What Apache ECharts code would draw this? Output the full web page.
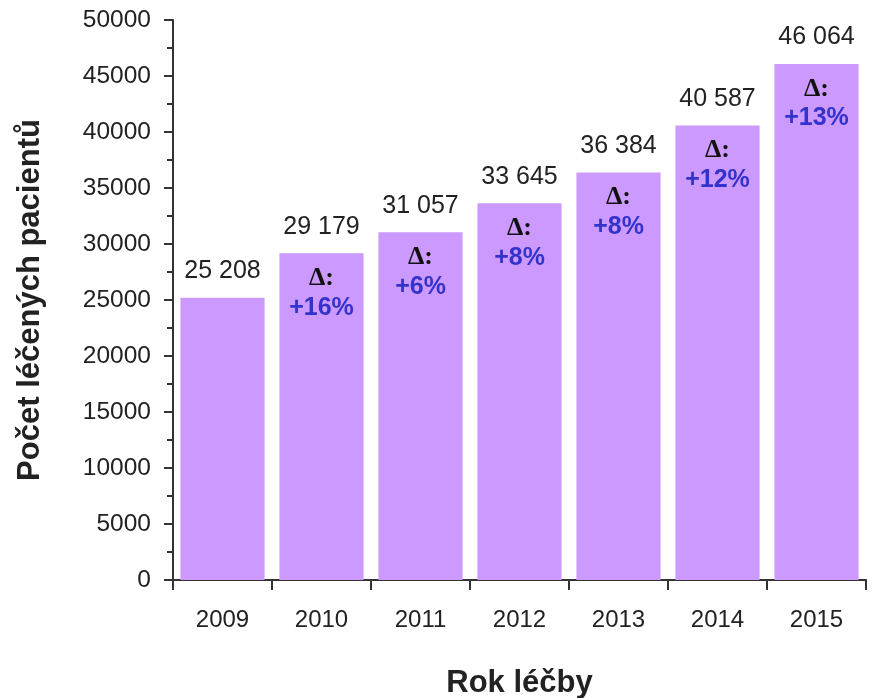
<!DOCTYPE html>
<html><head><meta charset="utf-8">
<script src="https://cdn.jsdelivr.net/npm/echarts@6/dist/echarts.min.js"></script>
<style>html,body{margin:0;padding:0;background:#fff}#c{width:874px;height:698px}</style>
</head><body><div id="c"></div>
<script>
var years = ['2009','2010','2011','2012','2013','2014','2015'];
var patients = [25208, 29179, 31057, 33645, 36384, 40587, 46064];
var growth = [null, 16, 6, 8, 8, 12, 13];
var yTicks = [0, 5000, 10000, 15000, 20000, 25000, 30000, 35000, 40000, 45000, 50000];

function fmt(v){ return String(v).replace(/\B(?=(\d{3})+(?!\d))/g, ' '); }

var chart = echarts.init(document.getElementById('c'));
chart.setOption({
  animation: false,
  grid: {left: 173, right: 8, top: 20, bottom: 118, containLabel: false, outerBoundsMode: 'none'},
  xAxis: {
    type: 'category', data: years,
    name: 'Rok léčby', nameLocation: 'middle', nameGap: 88,
    nameTextStyle: {fontFamily: 'Liberation Sans', fontSize: 31, fontWeight: 'bold', color: '#222'},
    axisLine: {lineStyle: {color: '#333', width: 2}},
    axisTick: {show: true, length: 10, lineStyle: {color: '#333', width: 2}},
    axisLabel: {fontFamily: 'Liberation Sans', fontSize: 24, color: '#222', margin: 28}
  },
  yAxis: {
    type: 'value', min: yTicks[0], max: yTicks[yTicks.length-1], interval: 5000,
    name: 'Počet léčených pacientů', nameLocation: 'middle', nameGap: 127,
    nameTextStyle: {fontFamily: 'Liberation Sans', fontSize: 31, fontWeight: 'bold', color: '#222'},
    axisLine: {show: true, lineStyle: {color: '#333', width: 2}},
    axisTick: {show: true, length: 9, lineStyle: {color: '#333', width: 2}},
    minorTick: {show: true, splitNumber: 2, length: 6, lineStyle: {color: '#333', width: 2}},
    splitLine: {show: false},
    axisLabel: {fontFamily: 'Liberation Sans', fontSize: 24.5, color: '#222', margin: 22,
      formatter: function(v){ return String(v); }}
  },
  series: [{
    type: 'bar', data: patients, barCategoryGap: '15%',
    itemStyle: {color: '#CC99FF'},
    label: {show: true, position: 'top', distance: 14, fontFamily: 'Liberation Sans', fontSize: 25, color: '#222',
      formatter: function(p){ return fmt(p.value); }}
  }, {
    type: 'bar', data: patients, barGap: '-100%', barCategoryGap: '15%',
    itemStyle: {color: 'rgba(0,0,0,0)'}, silent: true,
    label: {show: true, position: 'insideTop', distance: 11,
      formatter: function(p){ var g = growth[p.dataIndex]; return g == null ? '' : '{d|Δ:}\n{p|+' + g + '%}'; },
      rich: {
        d: {fontFamily: 'Liberation Serif', fontSize: 26, fontWeight: 'bold', color: '#111', lineHeight: 28},
        p: {fontFamily: 'Liberation Sans', fontSize: 25, fontWeight: 'bold', color: '#3333CC', lineHeight: 31}
      }}
  }]
});
</script></body></html>
